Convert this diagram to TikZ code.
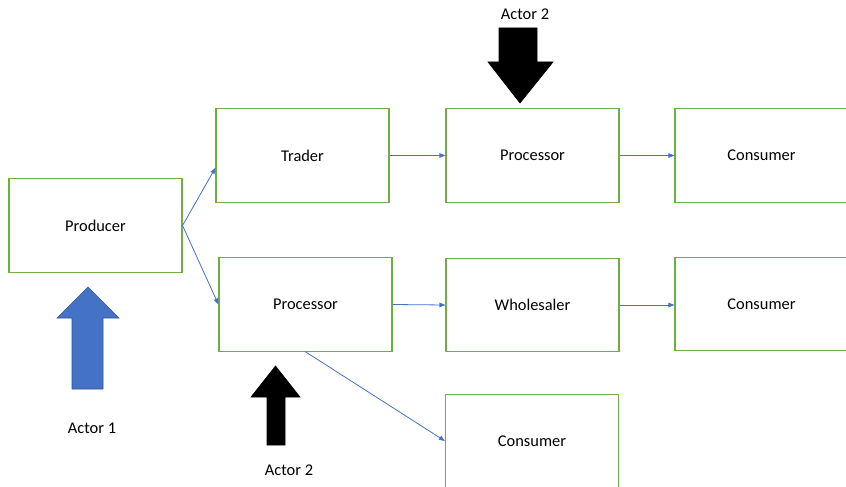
\documentclass[tikz,border=0pt]{standalone}
\usepackage{fontspec}
\setmainfont{Carlito}
\usetikzlibrary{arrows.meta}
\definecolor{boxgreen}{HTML}{70AD47}
\definecolor{linkblue}{HTML}{4472C4}
\definecolor{arrowblue}{HTML}{4472C4}
\definecolor{arrowedge}{HTML}{2F528F}
\tikzset{
  stage/.style={draw=boxgreen, line width=1.1pt, fill=white,
    minimum width=173pt, minimum height=93.5pt, inner sep=0pt,
    font=\fontsize{16.4}{19}\selectfont},
  link/.style={draw=linkblue, line width=0.8pt,
    -{Triangle[length=6pt,width=4.5pt]}},
  actorlabel/.style={font=\fontsize{16.4}{19}\selectfont, inner sep=0pt},
  bigblue/.style={fill=arrowblue, draw=arrowedge, line width=0.6pt},
  bigblack/.style={fill=black, draw=black, line width=0.6pt}
}
\begin{document}
\begin{tikzpicture}[x=1pt, y=-1pt]
  \useasboundingbox (0,0) rectangle (846,487);
  \clip (0,0) rectangle (846,487);

  % supply-chain stages
  \node[stage] (producer)   at (95.5,225.5) {Producer};
  \node[stage] (trader)     at (302.5,155.5)  {Trader};
  \node[stage] (proctop)    at (532.5,155.5)  {Processor};
  \node[stage] (constop)    at (761.5,155.5)  {Consumer};
  \node[stage] (procmid)    at (305.5,304.5){Processor};
  \node[stage] (wholesaler) at (532.5,305)  {Wholesaler};
  \node[stage] (consmid)    at (761.5,304)  {Consumer};
  \node[stage] (consbot)    at (532,441)    {Consumer};

  % flows between stages
  \draw[link] (producer.east) -- (trader.188.5);
  \draw[link] (producer.east) -- (procmid.west);
  \draw[link] (trader.east) -- (proctop.west);
  \draw[link] (proctop.east) -- (constop.west);
  \draw[link] (procmid.east) -- (wholesaler.west);
  \draw[link] (wholesaler.east) -- (consmid.west |- wholesaler.east);
  \draw[link] (procmid.south) -- (consbot.west);

  % actor 1: blue block arrow pointing up at the producer
  \draw[bigblue] (88,287) -- (119,318) -- (103,318) -- (103,389)
    -- (72,389) -- (72,318) -- (57,318) -- cycle;
  \node[actorlabel] (actor1) at (92,428) {Actor 1};

  % actor 2 below the processor
  \draw[bigblack] (275.5,366) -- (300,397) -- (285,397) -- (285,445)
    -- (267,445) -- (267,397) -- (251,397) -- cycle;
  \node[actorlabel] (actor2low) at (289,470) {Actor 2};

  % actor 2 above the processor
  \draw[bigblack] (520,103) -- (553,62) -- (537,62) -- (537,28)
    -- (499,28) -- (499,62) -- (488,62) -- cycle;
  \node[actorlabel] (actor2top) at (525,14) {Actor 2};
\end{tikzpicture}
\end{document}
